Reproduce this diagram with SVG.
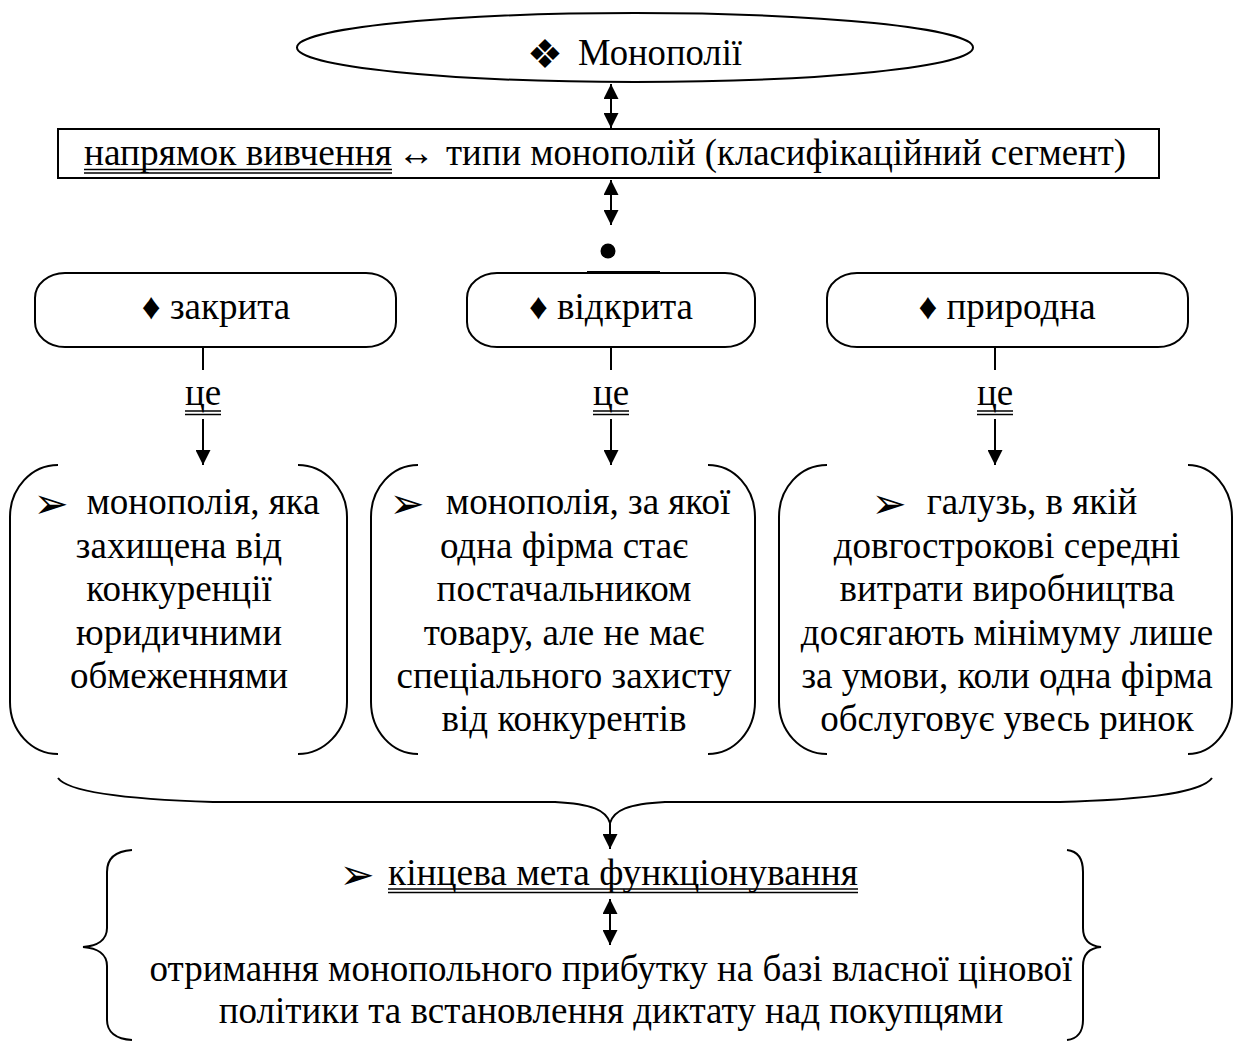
<svg xmlns="http://www.w3.org/2000/svg" width="1243" height="1041" viewBox="0 0 1243 1041">
<defs>
<style>
text{font-family:"Liberation Serif","Times New Roman","DejaVu Sans",serif;fill:#000;text-anchor:middle;font-size:37px}
.st{text-anchor:start}
.sym{font-family:"DejaVu Sans","Liberation Serif",sans-serif;font-size:42px}
.shape{fill:#fff;stroke:#000;stroke-width:2}
.br{fill:none;stroke:#000;stroke-width:2}
.ln{fill:none;stroke:#000;stroke-width:2}
.ul{stroke:#000;stroke-width:1.3}
</style>
<marker id="ah" viewBox="0 0 10 10" refX="10" refY="5" markerWidth="15" markerHeight="15" markerUnits="userSpaceOnUse" orient="auto-start-reverse">
<path d="M0,0 L10,5 L0,10 Z" fill="#000"/>
</marker>
</defs>
<rect width="1243" height="1041" fill="#fff"/>

<g id="connectors">
<line class="ln" x1="611" y1="84" x2="611" y2="128" marker-start="url(#ah)" marker-end="url(#ah)"/>
<line class="ln" x1="611" y1="180" x2="611" y2="225" marker-start="url(#ah)" marker-end="url(#ah)"/>
<line class="ln" x1="587" y1="272" x2="660" y2="272"/>
<line class="ln" x1="203" y1="347" x2="203" y2="370"/>
<line class="ln" x1="611" y1="347" x2="611" y2="370"/>
<line class="ln" x1="995" y1="347" x2="995" y2="370"/>
<line class="ln" x1="203" y1="419" x2="203" y2="465" marker-end="url(#ah)"/>
<line class="ln" x1="611" y1="419" x2="611" y2="465" marker-end="url(#ah)"/>
<line class="ln" x1="995" y1="419" x2="995" y2="465" marker-end="url(#ah)"/>
<path class="br" d="M58,778 C70,795 150,800 213,802 L555,802 C592,804 606,810 610,823 C614,810 628,804 665,802 L1060,802 C1130,800 1200,795 1212,778"/>
<line class="ln" x1="610" y1="822" x2="610" y2="849" marker-end="url(#ah)"/>
<line class="ln" x1="610" y1="899" x2="610" y2="945" marker-start="url(#ah)" marker-end="url(#ah)"/>
</g>

<g id="node-monopolies">
<ellipse class="shape" cx="635" cy="47.5" rx="338" ry="34.5"/>
<text class="sym" x="545" y="68" style="font-size:40px">❖</text>
<text class="st" x="578" y="65" textLength="164" lengthAdjust="spacingAndGlyphs">Монополії</text>
</g>

<g id="node-direction">
<rect class="shape" x="58" y="129" width="1101" height="49"/>
<text class="st" x="84" y="165" textLength="308" lengthAdjust="spacingAndGlyphs">напрямок вивчення</text>
<line class="ul" x1="84" y1="169.5" x2="392" y2="169.5"/>
<line class="ul" x1="84" y1="173" x2="392" y2="173"/>
<text x="416" y="165">↔</text>
<text class="st" x="446" y="165" textLength="680" lengthAdjust="spacingAndGlyphs">типи монополій (класифікаційний сегмент)</text>
</g>

<g id="node-bullet">
<circle cx="608" cy="251" r="7.5" fill="#000"/>
</g>

<g id="node-closed">
<rect class="shape" x="35" y="273" width="361" height="74" rx="30" ry="25"/>
<text x="216" y="319">♦ закрита</text>
</g>
<g id="node-open">
<rect class="shape" x="467" y="273" width="288" height="74" rx="30" ry="25"/>
<text x="611" y="319">♦ відкрита</text>
</g>
<g id="node-natural">
<rect class="shape" x="827" y="273" width="361" height="74" rx="30" ry="25"/>
<text x="1007" y="319">♦ природна</text>
</g>

<g id="label-ce-1"><text x="203" y="405">це</text>
<line class="ul" x1="185" y1="411" x2="221" y2="411"/><line class="ul" x1="185" y1="414.5" x2="221" y2="414.5"/></g>
<g id="label-ce-2"><text x="611" y="405">це</text>
<line class="ul" x1="593" y1="411" x2="629" y2="411"/><line class="ul" x1="593" y1="414.5" x2="629" y2="414.5"/></g>
<g id="label-ce-3"><text x="995" y="405">це</text>
<line class="ul" x1="977" y1="411" x2="1013" y2="411"/><line class="ul" x1="977" y1="414.5" x2="1013" y2="414.5"/></g>

<g id="node-closed-def">
<path class="br" d="M58,465 C31.6,465 10,488 10,517 L10,702 C10,731 31.6,754 58,754"/>
<path class="br" d="M298,465 C324,465 347,488 347,517 L347,702 C347,731 324,754 298,754"/>
<text class="sym" x="51" y="518">➢</text>
<text x="203" y="514">монополія, яка</text>
<text x="179" y="558">захищена від</text>
<text x="179" y="601">конкуренції</text>
<text x="179" y="645">юридичними</text>
<text x="179" y="688">обмеженнями</text>
</g>

<g id="node-open-def">
<path class="br" d="M418,465 C392,465 371,488 371,517 L371,702 C371,731 392,754 418,754"/>
<path class="br" d="M708,465 C734,465 755,488 755,517 L755,702 C755,731 734,754 708,754"/>
<text class="sym" x="407" y="518">➢</text>
<text x="588" y="514">монополія, за якої</text>
<text x="564" y="558">одна фірма стає</text>
<text x="564" y="601">постачальником</text>
<text x="564" y="645">товару, але не має</text>
<text x="564" y="688">спеціального захисту</text>
<text x="564" y="731">від конкурентів</text>
</g>

<g id="node-natural-def">
<path class="br" d="M827,465 C800,465 779,488 779,517 L779,702 C779,731 800,754 827,754"/>
<path class="br" d="M1188,465 C1212,465 1232,488 1232,517 L1232,702 C1232,731 1212,754 1188,754"/>
<text class="sym" x="889" y="518">➢</text>
<text x="1032" y="514">галузь, в якій</text>
<text x="1007" y="558">довгострокові середні</text>
<text x="1007" y="601">витрати виробництва</text>
<text x="1007" y="645">досягають мінімуму лише</text>
<text x="1007" y="688">за умови, коли одна фірма</text>
<text x="1007" y="731">обслуговує увесь ринок</text>
</g>

<g id="node-goal">
<path class="br" d="M132,850 C116,851 107,858 107,872 L107,928 C107,940 97,946 83,947 C97,948 107,954 107,966 L107,1020 C107,1032 116,1039 132,1040"/>
<path class="br" d="M1067,850 C1077,851 1083,858 1083,872 L1083,928 C1083,940 1090,946 1101,947 C1090,948 1083,954 1083,966 L1083,1020 C1083,1032 1077,1039 1067,1040"/>
<text class="sym" x="357" y="889">➢</text>
<text class="st" x="388" y="885" textLength="470" lengthAdjust="spacingAndGlyphs">кінцева мета функціонування</text>
<line class="ul" x1="388" y1="889" x2="858" y2="889"/>
<line class="ul" x1="388" y1="892.5" x2="858" y2="892.5"/>
<text x="611" y="981">отримання монопольного прибутку на базі власної цінової</text>
<text x="611" y="1023">політики та встановлення диктату над покупцями</text>
</g>
</svg>
